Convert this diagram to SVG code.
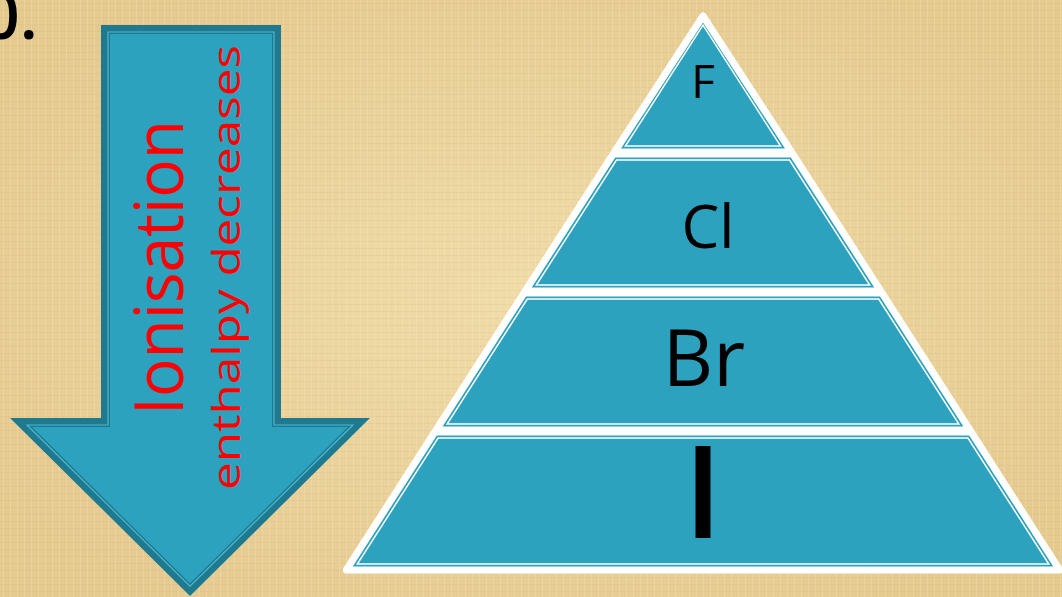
<svg xmlns="http://www.w3.org/2000/svg" width="1062" height="597" viewBox="0 0 1062 597">
<defs>
<style>
.bgtext{font-family:"Open Sans","Noto Sans",sans-serif;fill:#000}
.red{font-family:"Open Sans","Noto Sans",sans-serif;fill:#ff0000}
.lbl{font-family:"Open Sans","Noto Sans",sans-serif;fill:#000;text-anchor:middle}
.layer{fill:#2ca2bf;stroke:#fff;stroke-width:7;stroke-linejoin:round}
.inner{fill:none;stroke:#fff;stroke-width:1.5}
</style>
<pattern id="linen" width="7" height="7" patternUnits="userSpaceOnUse">
<path d="M0 3.5H7" stroke="#c9a96a" stroke-opacity="0.16" stroke-width="1"/>
<path d="M3.5 0V7" stroke="#fff3d0" stroke-opacity="0.2" stroke-width="1"/>
</pattern>
<radialGradient id="blot" cx="0.5" cy="0.5" r="0.6">
<stop offset="0" stop-color="#f0dcaa"/>
<stop offset="1" stop-color="#e5ca90"/>
</radialGradient>
</defs>
<rect width="1062" height="597" fill="url(#blot)"/>
<rect width="1062" height="597" fill="url(#linen)"/>
<text class="bgtext" x="-18" y="39" font-size="66" font-weight="600">0.</text>
<g id="arrow">
<polygon points="101,25 281,25 281,418 370,418 190,596 10,418 101,418" fill="#1f7a8f"/>
<polygon points="109,33 273,33 273,426 350.5,426 190,584.8 29.5,426 109,426" fill="#2ca2bf" stroke="#1f7a8f" stroke-width="2"/>
<polygon points="108,32 274,32 274,425 353,425 190,586.2 27,425 108,425" fill="none" stroke="#4fb8d2" stroke-width="1.2"/>
<text class="red" transform="translate(183,415) rotate(-90)" font-size="68" textLength="295" lengthAdjust="spacingAndGlyphs">Ionisation</text>
<text class="red" transform="translate(240,490) rotate(-90)" font-size="39" textLength="445" lengthAdjust="spacingAndGlyphs">enthalpy decreases</text>
</g>
<g id="layer-F">
<polygon class="layer" points="703,16 791.5,152 614.5,152"/>
<polygon class="inner" points="703,25.1 780.6,146 625.4,146"/>
<text class="lbl" x="703" y="98" font-size="46">F</text>
</g>
<g id="layer-Cl">
<polygon class="layer" points="613.2,154 792.8,154 880.7,291 525.3,291"/>
<polygon class="inner" points="616.5,160 789.5,160 869.7,285 536.3,285"/>
<text class="lbl" x="708" y="248" font-size="60">Cl</text>
</g>
<g id="layer-Br">
<polygon class="layer" points="524,293 882,293 969.9,430 436.1,430"/>
<polygon class="inner" points="527.3,299 878.7,299 958.9,424 447.1,424"/>
<text class="lbl" x="704" y="386" font-size="78">Br</text>
</g>
<g id="layer-I">
<polygon class="layer" points="434.8,432 971.2,432 1059.7,570 346.3,570"/>
<polygon class="inner" points="438.1,438 967.9,438 1048.8,564 357.3,564"/>
<text class="lbl" x="703" y="538" font-size="128" font-weight="600">I</text>
</g>
</svg>
